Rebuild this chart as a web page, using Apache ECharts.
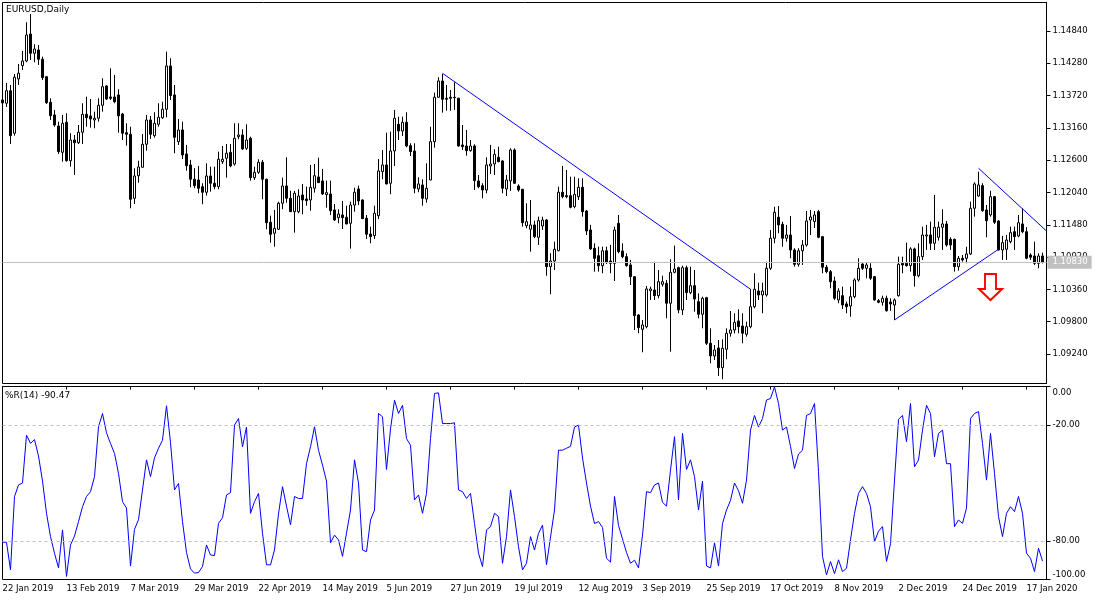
<!DOCTYPE html>
<html><head><meta charset="utf-8">
<script src="https://cdn.jsdelivr.net/npm/echarts@6/dist/echarts.min.js"></script>
<style>html,body{margin:0;padding:0;background:#fff}#c{width:1100px;height:600px}</style>
</head><body><div id="c"></div>
<script>
// ---- data ----
const startDate = '2019-01-22';
const skipDates = ['2019-12-25', '2020-01-01'];
const monthNames = ['Jan','Feb','Mar','Apr','May','Jun','Jul','Aug','Sep','Oct','Nov','Dec'];
const labelEvery = 16;

const open = [
1.13644,1.13587,1.13805,1.13067,1.14008,1.14239,1.14320,1.14788,1.14454,1.14511,
1.14350,1.14048,1.13604,1.13384,1.13193,1.12737,1.13257,1.12591,1.12950,1.12903,
1.13084,1.13396,1.13367,1.13297,1.13327,1.13552,1.13887,1.13696,1.13696,1.13731,
1.13401,1.13077,1.13049,1.11939,1.12331,1.12477,1.12876,1.13297,1.13025,1.13223,
1.13337,1.13483,1.14234,1.13731,1.12921,1.13124,1.12708,1.12517,1.12269,1.12257,
1.12141,1.12044,1.12326,1.12200,1.12141,1.12574,1.12633,1.12737,1.12534,1.13008,
1.13037,1.12806,1.12980,1.12297,1.12390,1.12564,1.12269,1.11523,1.11333,1.11402,
1.11853,1.12153,1.11939,1.11707,1.11707,1.11997,1.11927,1.11910,1.12113,1.12309,
1.12240,1.12002,1.12014,1.11737,1.11603,1.11650,1.11610,1.11506,1.11823,1.12101,
1.11910,1.11593,1.11320,1.11291,1.11638,1.12401,1.12517,1.12200,1.12760,1.13223,
1.13106,1.13257,1.12852,1.12760,1.12101,1.12170,1.11927,1.12257,1.12921,1.13691,
1.13973,1.13673,1.13691,1.13691,1.13673,1.12864,1.12846,1.12765,1.12846,1.12240,
1.12158,1.12083,1.12500,1.12534,1.12650,1.12586,1.12101,1.12240,1.12777,1.12153,
1.12096,1.11464,1.11402,1.11477,1.11263,1.11459,1.11563,1.10754,1.10852,1.11031,
1.12044,1.11985,1.11985,1.11794,1.11967,1.12130,1.11719,1.11390,1.11073,1.10944,
1.10771,1.11029,1.10852,1.10812,1.11506,1.11026,1.10927,1.10783,1.10580,1.09916,
1.09668,1.09713,1.10337,1.10349,1.10251,1.10448,1.10465,1.10119,1.10656,1.10736,
1.10003,1.10736,1.10303,1.10424,1.10147,1.09928,1.10216,1.09425,1.09205,1.09344,
1.09002,1.09321,1.09599,1.09656,1.09812,1.09725,1.09581,1.09713,1.10060,1.10332,
1.10263,1.10263,1.10726,1.11246,1.11610,1.11489,1.11246,1.11303,1.11043,1.10795,
1.11029,1.11130,1.11563,1.11534,1.11707,1.11274,1.10743,1.10667,1.10505,1.10176,
1.10251,1.10107,1.10072,1.10233,1.10523,1.10800,1.10726,1.10726,1.10580,1.10164,
1.10136,1.10205,1.10141,1.10089,1.10251,1.10812,1.10812,1.10771,1.11061,1.10597,
1.10927,1.11286,1.11303,1.11159,1.11263,1.11437,1.11494,1.11228,1.11228,1.10754,
1.10899,1.10899,1.10974,1.11766,1.11979,1.12158,1.11737,1.11650,1.11967,1.11546,
1.11043,1.11055,1.11187,1.11360,1.11286,1.11494,1.11360,1.10956,1.10939,1.10812,
1.10939];
const high = [
1.13731,1.13939,1.13904,1.14095,1.14268,1.14494,1.14992,1.15135,1.14610,1.14598,
1.14395,1.14060,1.13673,1.13471,1.13268,1.13384,1.13413,1.13067,1.13037,1.13210,
1.13587,1.13701,1.13661,1.13441,1.13673,1.14020,1.13900,1.14194,1.14078,1.13830,
1.13420,1.13240,1.13181,1.12460,1.12591,1.13054,1.13384,1.13367,1.13431,1.13587,
1.13614,1.14482,1.14367,1.13904,1.13315,1.13268,1.12864,1.12604,1.12460,1.12500,
1.12200,1.12546,1.12487,1.12487,1.12748,1.12846,1.12881,1.12881,1.13240,1.13240,
1.13136,1.13223,1.13008,1.12487,1.12616,1.12604,1.12280,1.11638,1.11737,1.11880,
1.12297,1.12650,1.12071,1.12066,1.12096,1.12188,1.12141,1.12517,1.12534,1.12643,
1.12448,1.12245,1.12245,1.11841,1.11749,1.11893,1.11811,1.11880,1.12123,1.12158,
1.11920,1.11650,1.11447,1.11811,1.12621,1.12777,1.13077,1.13094,1.13471,1.13354,
1.13354,1.13431,1.12893,1.12893,1.12304,1.12269,1.12546,1.13181,1.13771,1.14038,
1.14095,1.13904,1.13817,1.13951,1.13684,1.13210,1.13124,1.12950,1.12876,1.12344,
1.12200,1.12650,1.12864,1.12789,1.12834,1.12604,1.12344,1.12806,1.12806,1.12182,
1.12100,1.11853,1.11910,1.11551,1.11620,1.11620,1.11580,1.10986,1.11187,1.12141,
1.12500,1.12430,1.12314,1.12314,1.12286,1.12286,1.11737,1.11477,1.11159,1.11100,
1.11100,1.11100,1.11130,1.11447,1.11650,1.11159,1.10986,1.10870,1.10590,1.09930,
1.09829,1.10419,1.10407,1.10840,1.10696,1.10597,1.10523,1.10882,1.11118,1.10754,
1.10771,1.10771,1.10754,1.10696,1.10292,1.10233,1.10230,1.09685,1.09395,1.09482,
1.09494,1.09685,1.09985,1.09945,1.10015,1.09945,1.09800,1.10367,1.10639,1.10476,
1.10476,1.10840,1.11390,1.11794,1.11806,1.11534,1.11477,1.11633,1.11073,1.11073,
1.11216,1.11719,1.11737,1.11719,1.11737,1.11286,1.10783,1.10696,1.10580,1.10379,
1.10407,1.10147,1.10407,1.10552,1.10899,1.10812,1.10823,1.10812,1.10592,1.10193,
1.10251,1.10251,1.10205,1.10205,1.10927,1.10927,1.11170,1.11090,1.11083,1.11159,
1.11447,1.11477,1.11534,1.11997,1.11534,1.11749,1.11546,1.11263,1.11240,1.10939,
1.10956,1.11100,1.11880,1.12217,1.12401,1.12200,1.11823,1.12071,1.11980,1.11560,
1.11286,1.11303,1.11447,1.11447,1.11650,1.11766,1.11437,1.10986,1.11187,1.10986,
1.10996];
const low = [
1.13505,1.13523,1.12881,1.13025,1.13904,1.14164,1.14298,1.14338,1.14298,1.14251,
1.13991,1.13575,1.13297,1.13181,1.12708,1.12574,1.12574,1.12487,1.12344,1.12881,
1.12881,1.13181,1.13164,1.13153,1.13268,1.13441,1.13644,1.13644,1.13587,1.13077,
1.12950,1.12852,1.11766,1.11841,1.12210,1.12470,1.12765,1.12968,1.12990,1.13181,
1.13315,1.13344,1.13644,1.12720,1.12864,1.12621,1.12418,1.12130,1.12113,1.12026,
1.11836,1.11985,1.12054,1.12096,1.12096,1.12534,1.12297,1.12477,1.12505,1.12963,
1.12777,1.12777,1.12245,1.12257,1.12361,1.11922,1.11402,1.11170,1.11100,1.11390,
1.11749,1.11863,1.11707,1.11343,1.11679,1.11662,1.11811,1.11724,1.12037,1.12210,
1.11997,1.11776,1.11650,1.11546,1.11506,1.11407,1.11489,1.11066,1.11707,1.11823,
1.11580,1.11234,1.11159,1.11234,1.11581,1.12269,1.12180,1.12009,1.12500,1.12950,
1.13020,1.12824,1.12673,1.12026,1.12044,1.11811,1.11863,1.12250,1.12817,1.13680,
1.13424,1.13458,1.13458,1.13471,1.12834,1.12777,1.12678,1.12748,1.12083,1.12113,
1.11939,1.12026,1.12361,1.12344,1.12564,1.12026,1.11979,1.12066,1.12190,1.12054,
1.11447,1.11419,1.11014,1.11246,1.11130,1.11390,1.10597,1.10275,1.10696,1.11020,
1.11939,1.11939,1.11766,1.11766,1.11910,1.11620,1.11303,1.11043,1.10667,1.10667,
1.10639,1.10800,1.10639,1.10505,1.10986,1.10899,1.10754,1.10436,1.09656,1.09598,
1.09269,1.09685,1.10176,1.10176,1.10205,1.10407,1.09859,1.09279,1.10639,1.09945,
1.09916,1.10176,1.10275,1.09973,1.09859,1.09685,1.09395,1.09078,1.09136,1.08858,
1.08801,1.09148,1.09539,1.09598,1.09598,1.09425,1.09539,1.09685,1.10032,1.10176,
1.09945,1.10233,1.10696,1.11159,1.11333,1.11100,1.11187,1.10899,1.10754,1.10754,
1.10783,1.11100,1.11303,1.11425,1.11246,1.10639,1.10639,1.10379,1.10176,1.10119,
1.10020,1.09945,1.09886,1.10205,1.10493,1.10696,1.10552,1.10523,1.10164,1.10119,
1.10077,1.09973,1.09985,1.09829,1.10233,1.10639,1.10754,1.10667,1.10407,1.10569,
1.10870,1.11043,1.11043,1.11043,1.11204,1.11043,1.11100,1.11043,1.10667,1.10684,
1.10840,1.10812,1.10956,1.11620,1.11967,1.11707,1.11263,1.11620,1.11494,1.11031,
1.10870,1.10870,1.11159,1.11043,1.11263,1.11333,1.10882,1.10870,1.10783,1.10726,
1.10810];
const close = [
1.13592,1.13805,1.13025,1.14038,1.14107,1.14320,1.14771,1.14454,1.14528,1.14350,
1.14031,1.13597,1.13372,1.13210,1.12748,1.13240,1.12591,1.12950,1.12903,1.13084,
1.13396,1.13337,1.13315,1.13327,1.13552,1.13875,1.13661,1.13673,1.13614,1.13367,
1.13067,1.13049,1.11922,1.12326,1.12482,1.12876,1.13297,1.13049,1.13240,1.13344,
1.13483,1.14234,1.13719,1.12997,1.13124,1.12690,1.12505,1.12269,1.12158,1.12113,
1.12044,1.12326,1.12200,1.12141,1.12616,1.12616,1.12720,1.12500,1.12980,1.13037,
1.12794,1.12950,1.12297,1.12390,1.12564,1.12269,1.11516,1.11315,1.11419,1.11853,
1.12153,1.11939,1.11707,1.12026,1.11979,1.11910,1.11898,1.12130,1.12331,1.12210,
1.12014,1.12037,1.11724,1.11563,1.11667,1.11603,1.11494,1.11823,1.12044,1.11893,
1.11586,1.11315,1.11274,1.11679,1.12413,1.12517,1.12188,1.12760,1.13327,1.13106,
1.13257,1.12846,1.12748,1.12113,1.12188,1.11939,1.12113,1.12921,1.13691,1.13973,
1.13656,1.13656,1.13673,1.13684,1.12846,1.12834,1.12765,1.12846,1.12245,1.12141,
1.12083,1.12517,1.12534,1.12702,1.12574,1.12113,1.12257,1.12777,1.12200,1.12083,
1.11516,1.11534,1.11477,1.11274,1.11551,1.11563,1.10754,1.10852,1.11055,1.12044,
1.11967,1.11967,1.11783,1.12009,1.12130,1.11707,1.11372,1.11061,1.10899,1.10771,
1.11029,1.10830,1.10812,1.11390,1.11014,1.10927,1.10771,1.10580,1.09904,1.09696,
1.09743,1.10367,1.10367,1.10251,1.10493,1.10493,1.10119,1.10656,1.10713,1.10003,
1.10736,1.10303,1.10424,1.10193,1.09928,1.10205,1.09425,1.09205,1.09309,1.09002,
1.09338,1.09599,1.09656,1.09789,1.09713,1.09599,1.09713,1.10060,1.10362,1.10263,
1.10332,1.10726,1.11246,1.11697,1.11477,1.11246,1.11303,1.11043,1.10795,1.11029,
1.11130,1.11546,1.11615,1.11650,1.11263,1.10743,1.10667,1.10493,1.10205,1.10332,
1.10089,1.10060,1.10233,1.10523,1.10726,1.10726,1.10783,1.10552,1.10176,1.10136,
1.10205,1.09990,1.10107,1.10176,1.10795,1.10783,1.10771,1.11061,1.10597,1.10927,
1.11303,1.11303,1.11159,1.11437,1.11437,1.11494,1.11130,1.11130,1.10754,1.10899,
1.10870,1.10974,1.11766,1.12188,1.12170,1.11724,1.11551,1.11967,1.11523,1.11043,
1.11170,1.11216,1.11343,1.11274,1.11516,1.11360,1.10899,1.10916,1.10812,1.10939,
1.10830];
const wpr = [
-80.7,-80.7,-95,-57,-51,-50,-25.2,-29.5,-27.5,-36,
-49,-65.7,-77.8,-86.4,-94,-74.3,-98.4,-82.1,-77.5,-70,
-62.3,-57,-54.5,-46.7,-20.9,-14,-24,-29.5,-34.7,-45,
-59.7,-63,-93,-74,-69,-53.6,-38,-46.7,-37,-32,
-27.8,-10,-29,-53.6,-50.2,-70,-86,-94.5,-96.7,-96.4,
-93.3,-82.1,-87.3,-87.6,-70.9,-68,-56.2,-55,-20,-16.6,
-31.2,-21,-65.7,-59.7,-55.4,-76,-92.4,-92.4,-84.7,-66,
-51.9,-62,-71.7,-57,-58,-58,-40,-31.2,-20.9,-33,
-40.7,-49,-81,-77,-79.5,-88,-76,-64,-38,-50,
-84.7,-85.6,-69.2,-64,-14,-15.7,-43,-22,-7.1,-14,
-9.7,-27,-30.4,-58.8,-56.2,-65.7,-55.4,-27,-3.6,-3.3,
-19.2,-19.2,-19.2,-18.8,-53.6,-54.5,-58,-55.4,-71,-86.4,
-93.3,-74.3,-72.6,-65.7,-67.4,-91.6,-77.8,-53.6,-67.4,-83,
-95,-91.6,-77.8,-84.7,-76.1,-71.8,-92.4,-78,-64,-33,
-33,-32,-31,-21,-20,-37,-50,-62,-71,-70,
-73,-89,-91,-57,-72,-79,-86,-91.6,-90,-94,
-77,-54.5,-55,-51,-50,-60,-62,-43.3,-26,-58.8,
-24.3,-43,-38,-46.7,-64,-49,-93,-94,-81,-93,
-71,-64,-59,-50,-54,-60.5,-48.5,-22.6,-15,-21,
-16.6,-7,-6.2,-0.2,-8.8,-22.6,-21,-31,-42.5,-35,
-33,-15,-14,-8.8,-44,-88,-97.6,-90.7,-97,-89.8,
-95.9,-94.2,-79.5,-65.7,-55.4,-51.9,-55.4,-62.3,-80.4,-75,
-72.6,-90.7,-81.5,-48.5,-17,-15,-28.6,-8.8,-41.6,-38.1,
-22.6,-9.7,-14,-36.4,-24.3,-22.6,-40,-40,-72.6,-69.2,
-70.9,-63,-16.6,-14,-13,-29.5,-48.5,-24.3,-45,-67.4,
-77.8,-65.7,-62.3,-64.8,-57,-65.7,-86.4,-89,-95.9,-83.8,
-90.47];
const priceTicks = [1.0924, 1.0980, 1.1036, 1.1092, 1.1148, 1.1204, 1.1260, 1.1316, 1.1372, 1.1428, 1.1484];
const wprTicks = [0, -20, -80, -100];
const wprLevels = [-20, -80];
const lastPrice = 1.1083;
// trend lines: [startBar, startPrice, endBar, endPrice]
const trendLines = [
  [110, 1.14107, 187, 1.10362],
  [223, 1.09829, 249, 1.11055],
  [244, 1.12460, 261, 1.11372]
];
const arrowMark = [247, 1.10401];
const chartTitle = 'EURUSD,Daily';
const wprTitle = '%R(14) -90.47';

// ---- categories (trading days) ----
const barCount = open.length + 1;
const dates = [];
let d = new Date(startDate + 'T00:00:00Z');
while (dates.length < barCount) {
  const iso = d.toISOString().slice(0, 10);
  const dow = d.getUTCDay();
  if (dow !== 0 && dow !== 6 && skipDates.indexOf(iso) < 0) {
    dates.push(d.getUTCDate() + ' ' + monthNames[d.getUTCMonth()] + ' ' + d.getUTCFullYear());
  }
  d = new Date(d.getTime() + 86400000);
}
const candles = open.map((o, i) => [o, close[i], low[i], high[i]]);

const font = 'DejaVu Sans';
const fs = 8.5;
const lblInt = (idx) => idx % labelEvery === 0;

const chart = echarts.init(document.getElementById('c'), null, {renderer: 'canvas'});
chart.setOption({
  animation: false,
  backgroundColor: '#ffffff',
  title: [
    {text: chartTitle, left: 6, top: 5, padding: 0, textStyle: {fontFamily: font, fontSize: 9, fontWeight: 'normal', color: '#000'}},
    {text: wprTitle, left: 5, top: 391, padding: 0, textStyle: {fontFamily: font, fontSize: 9, fontWeight: 'normal', color: '#000'}}
  ],
  grid: [
    {left: 2.5, right: 53.5, top: 2.5, height: 381, show: true, borderColor: '#000', borderWidth: 1, outerBoundsMode: 'none', containLabel: false},
    {left: 2.5, right: 53.5, top: 386.5, height: 193, show: true, borderColor: '#000', borderWidth: 1, outerBoundsMode: 'none', containLabel: false}
  ],
  xAxis: [
    {type: 'category', gridIndex: 0, data: dates, boundaryGap: false, show: false},
    {type: 'category', gridIndex: 1, data: dates, boundaryGap: false,
     axisLine: {show: true, lineStyle: {color: '#000', width: 1}},
     axisTick: {show: true, interval: lblInt, length: 3, lineStyle: {color: '#000'}},
     axisLabel: {interval: lblInt, align: 'left', margin: 5, fontFamily: font, fontSize: fs, color: '#000'},
     splitLine: {show: false}}
  ],
  yAxis: [
    {type: 'value', gridIndex: 0, position: 'right', min: 1.087276, max: 1.153342,
     axisLine: {show: true, lineStyle: {color: '#000'}},
     axisTick: {show: true, customValues: priceTicks, length: 4, lineStyle: {color: '#000'}},
     axisLabel: {customValues: priceTicks, formatter: (v) => v.toFixed(5), margin: 6, fontFamily: font, fontSize: fs, color: '#000'},
     splitLine: {show: false}},
    {type: 'value', gridIndex: 1, position: 'right', min: -100, max: 0,
     axisLine: {show: true, lineStyle: {color: '#000'}},
     axisTick: {show: true, customValues: wprTicks, length: 4, lineStyle: {color: '#000'}},
     axisLabel: {customValues: wprTicks, margin: 6, fontFamily: font, fontSize: fs, color: '#000',
       formatter: (v) => v === 0 ? '{t|0.00}' : (v === -100 ? '{b|-100.00}' : v.toFixed(2)),
       rich: {
         t: {padding: [12, 0, 0, 0], fontFamily: font, fontSize: fs, color: '#000'},
         b: {padding: [0, 0, 10, 0], fontFamily: font, fontSize: fs, color: '#000'}
       }},
     splitLine: {show: false}}
  ],
  series: [
    {type: 'candlestick', xAxisIndex: 0, yAxisIndex: 0, data: candles, barWidth: 3, z: 3,
     itemStyle: {color: '#ffffff', color0: '#000000', borderColor: '#000000', borderColor0: '#000000', borderColorDoji: '#000000', borderWidth: 1},
     markLine: {
       silent: true, symbol: ['none', 'none'], animation: false, precision: 5,
       label: {show: false},
       data: [
         {yAxis: lastPrice, lineStyle: {color: '#c0c0c0', width: 1, type: 'solid'},
          label: {show: true, position: 'end', distance: 1, formatter: () => lastPrice.toFixed(5),
                  backgroundColor: '#c0c0c0', color: '#ffffff', padding: [2, 4, 2, 5], fontFamily: font, fontSize: fs}},
         ...trendLines.map(t => [
           {coord: [t[0], t[1]], lineStyle: {color: '#0000ff', width: 1, type: 'solid'}},
           {coord: [t[2], t[3]]}
         ])
       ]
     },
     markPoint: {
       silent: true, animation: false,
       symbol: 'path://M6,0 L17,0 L17,15 L23,15 L11.5,26 L0,15 L6,15 Z',
       symbolSize: [23, 26],
       itemStyle: {color: '#ffffff', borderColor: '#ff0000', borderWidth: 2},
       label: {show: false},
       data: [{coord: arrowMark}]
     }
    },
    {type: 'line', xAxisIndex: 1, yAxisIndex: 1, data: wpr, showSymbol: false, symbol: 'none',
     lineStyle: {color: '#0000ff', width: 1}, itemStyle: {color: '#0000ff'},
     markLine: {
       silent: true, symbol: ['none', 'none'], animation: false, label: {show: false}, precision: 2,
       lineStyle: {color: '#c0c0c0', width: 1, type: [3, 3]},
       data: wprLevels.map(v => ({yAxis: v}))
     }
    }
  ]
});
</script>
</body></html>
